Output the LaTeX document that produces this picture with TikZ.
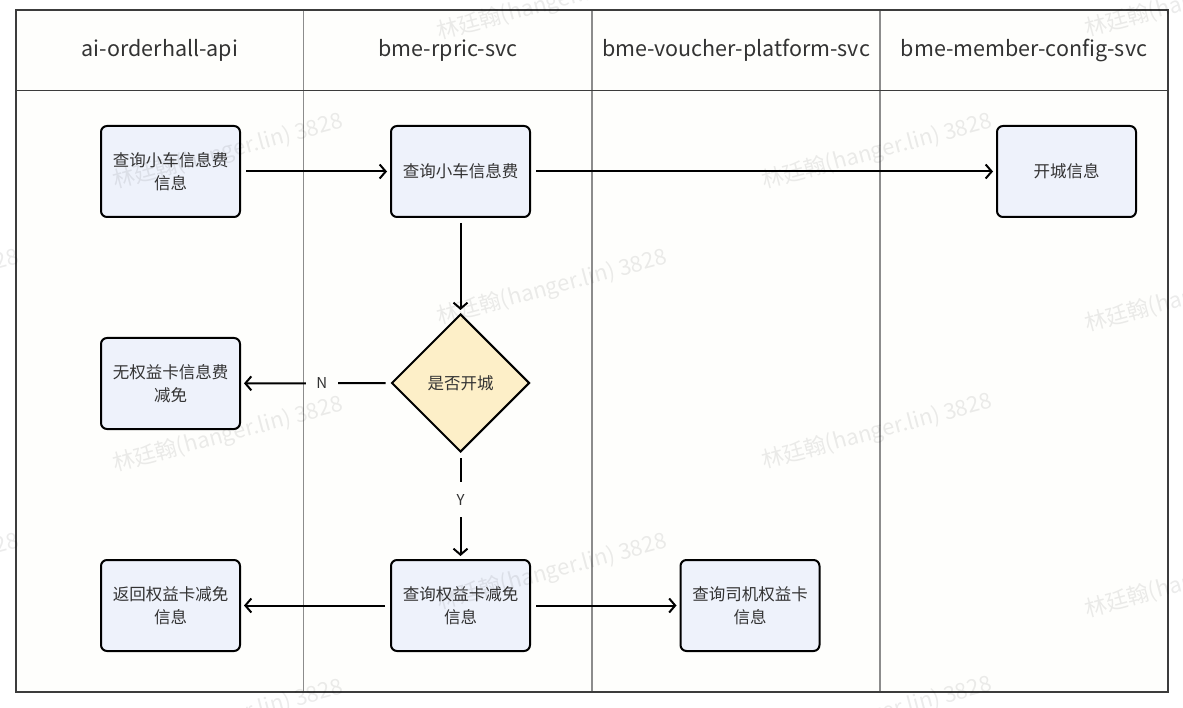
\documentclass[tikz,border=0pt]{standalone}
\usepackage{fontspec}
\setmainfont{Noto Sans CJK SC}
\usetikzlibrary{arrows.meta,shapes.geometric}
\definecolor{boxfill}{RGB}{238,242,251}
\definecolor{diafill}{RGB}{253,239,200}
\definecolor{txt}{RGB}{51,51,51}
\definecolor{divider}{RGB}{140,140,140}
\definecolor{framec}{RGB}{60,60,60}
\definecolor{bg}{RGB}{254,254,252}
\begin{document}
\begin{tikzpicture}[x=1pt,y=-1pt,
  proc/.style={draw=black, line width=2pt, fill=boxfill, rounded corners=6pt,
    minimum width=139pt, minimum height=91pt, align=center,
    font=\fontsize{16.5}{23}\selectfont, text=txt, inner sep=0pt},
  dec/.style={diamond, draw=black, line width=2pt, fill=diafill,
    minimum width=138pt, minimum height=138pt, inner sep=0pt,
    font=\fontsize{16.5}{23}\selectfont, text=txt},
  conn/.style={line width=2pt, -{Straight Barb[length=6pt,width=14pt,line width=2pt]},
    shorten <=5pt, shorten >=3pt},
  lane/.style={draw=divider, line width=1.5pt},
  head/.style={font=\fontsize{21.5}{26}\selectfont, text=txt},
  lbl/.style={fill=bg, font=\fontsize{15}{18}\selectfont, text=txt, inner sep=0pt},
  wm/.style={rotate=15, font=\fontsize{22}{24}\selectfont, text=black, opacity=0.08}
]
\useasboundingbox (0,0) rectangle (1183,708);
\fill[white] (0,0) rectangle (1183,708);
% lanes
\fill[bg] (16,10) rectangle (1168,692);
\draw[lane] (303.5,10) -- (303.5,692);
\draw[lane] (592,10) -- (592,692);
\draw[lane] (880,10) -- (880,692);
\draw[draw=framec, line width=1.5pt] (16,90.5) -- (1168,90.5);
\draw[draw=framec, line width=1.5pt] (16,10) rectangle (1168,692);
% headers
\node[head] (h1) at (160,50) {ai-orderhall-api};
\node[head] (h2) at (448,50) {bme-rpric-svc};
\node[head] (h3) at (736,50) {bme-voucher-platform-svc};
\node[head] (h4) at (1024,50) {bme-member-config-svc};
% nodes
\node[proc] (a1) at (170.5,171.5) {查询小车信息费\\信息};
\node[proc] (b1) at (460.5,171.5) {查询小车信息费};
\node[proc] (d1) at (1066.5,171.5) {开城信息};
\node[dec]  (dia) at (460.5,383) {是否开城};
\node[proc] (a2) at (170.5,383.5) {无权益卡信息费\\减免};
\node[proc] (a3) at (170.5,605.5) {返回权益卡减免\\信息};
\node[proc] (b3) at (460.5,605.5) {查询权益卡减免\\信息};
\node[proc] (c3) at (750,605.5) {查询司机权益卡\\信息};
% connectors
\draw[conn] (a1) -- (b1);
\draw[conn] (b1) -- (d1);
\draw[conn] (b1) -- (dia);
\draw[conn] (dia) -- node[lbl, pos=0.46, minimum width=32pt, minimum height=20pt] (n) {N} (a2);
\draw[conn] (dia) -- node[lbl, pos=0.44, minimum width=20pt, minimum height=35pt] (y) {Y} (b3);
\draw[conn] (b3) -- (a3);
\draw[conn] (b3) -- (c3);
% watermarks
\foreach \x/\y [count=\i] in {228/152, 228/435, 228/718, 552/3, 552/288, 552/572,
  877/152, 877/432, 877/715, 1200/0, 1200/295, 1200/580, -96/288, -96/572}
  \node[wm] (wm\i) at (\x,\y) {林廷翰(hanger.lin) 3828};
\end{tikzpicture}
\end{document}
